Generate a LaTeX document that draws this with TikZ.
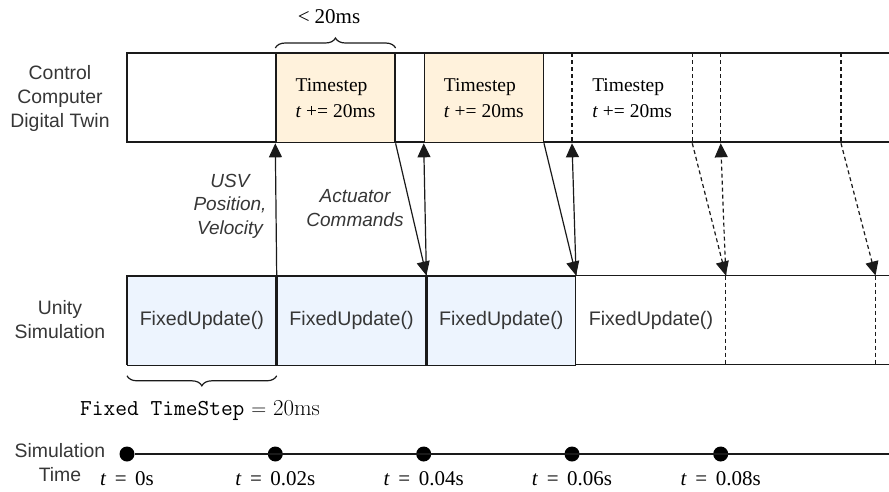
\documentclass[tikz,border=0pt]{standalone}
\usepackage{fontspec}
\setsansfont{Liberation Sans}
\newfontfamily\timesfont{Liberation Serif}
\usepackage{tikz}
\usetikzlibrary{arrows.meta,positioning,decorations.pathreplacing,calc}
\definecolor{stepfill}{HTML}{FFF2DC}
\definecolor{fufill}{HTML}{EDF4FE}
\definecolor{linecol}{HTML}{1A1A1A}
\definecolor{labcol}{HTML}{363636}

\begin{document}
\begin{tikzpicture}[
  x=1pt, y=-1pt,
  rowline/.style={draw=linecol, line width=1.3pt},
  stepbox/.style={draw=linecol, line width=1.3pt, fill=stepfill, minimum width=119,
                  minimum height=89, inner sep=0pt, align=left,
                  font=\timesfont\fontsize{19.5}{26.5}\selectfont},
  fubox/.style={draw=linecol, line width=1.3pt, fill=fufill, minimum width=148.4,
                minimum height=89, inner sep=0pt,
                font=\sffamily\fontsize{19.6}{22}\selectfont, text=labcol},
  rowlab/.style={align=center, font=\sffamily\fontsize{19.4}{24}\selectfont, text=labcol},
  msg/.style={align=center, font=\sffamily\itshape\fontsize{19}{23.5}\selectfont, text=labcol},
  arr/.style={-{Triangle[length=14pt,width=13pt]}, draw=linecol, line width=1.2pt},
  darr/.style={arr, dash pattern=on 4pt off 3pt},
  dline/.style={draw=linecol, line width=1.1pt, dash pattern=on 4pt off 3pt},
  brc/.style={draw=linecol, line width=1.2pt, decorate,
              decoration={brace, amplitude=10pt}},
  tdot/.style={circle, fill=black, minimum size=15, inner sep=0pt},
  tlab/.style={font=\timesfont\fontsize{21}{24}\selectfont}
]
\useasboundingbox (0,0) rectangle (889,491);

% ======= Control computer row =======
\node[rowlab] (ctrllab) at (60,98) {Control\\Computer\\Digital Twin};
\draw[rowline] (892,53) -- (127,53) -- (127,142) -- (892,142);
\node[stepbox, anchor=north west] (ts1) at (275.3,53) {Timestep\\\textit{t} += 20ms};
\node[stepbox, anchor=north west] (ts2) at (423.7,53) {Timestep\\\textit{t} += 20ms};
\node[stepbox, anchor=north west, draw=none, fill=none] (ts3) at (572,53) {Timestep\\\textit{t} += 20ms};
\node[stepbox, anchor=north west, draw=none, fill=none] (ts4) at (720.7,53) {};
\draw[dline] (ts3.north west) -- (ts3.south west);
\draw[dline] (ts3.north east) -- (ts3.south east);
\draw[dline] (ts4.north west) -- (ts4.south west);
\draw[dline] (ts4.north east) -- (ts4.south east);

% ======= Unity row =======
\node[rowlab] (unitylab) at (60,320) {Unity\\Simulation};
\draw[rowline] (892,275.5) -- (127,275.5) -- (127,364.5) -- (892,364.5);
\node[fubox, anchor=north west] (fu1) at (127,275.5) {FixedUpdate()};
\node[fubox, anchor=north west] (fu2) at (fu1.north east) {FixedUpdate()};
\node[fubox, anchor=north west] (fu3) at (fu2.north east) {FixedUpdate()};
\node[fubox, anchor=north west, draw=none, fill=none] (fu4) at (fu3.north east) {FixedUpdate()};
\node[fubox, anchor=north west, draw=none, fill=none] (fu5) at (fu4.north east) {};
\coordinate (fu6) at (fu5.north east);
\draw[dline] (fu5.north west) -- (fu5.south west);
\draw[dline] (fu5.north east) -- (fu5.south east);

% ======= Messages =======
\draw[arr] (fu2.north west) -- (ts1.south west);
\draw[arr] (ts1.south east) -- (fu3.north west);
\draw[arr] (fu3.north west) -- (ts2.south west);
\draw[arr] (ts2.south east) -- (fu4.north west);
\draw[arr] (fu4.north west) -- (ts3.south west);
\draw[darr] (ts3.south east) -- (fu5.north west);
\draw[darr] (fu5.north west) -- (ts4.south west);
\draw[darr] (ts4.south east) -- (fu6);
\node[msg] (usvlab) at (230,206) {USV\\Position,\\Velocity};
\node[msg] (actlab) at (355,208) {Actuator\\Commands};

% ======= Braces =======
\draw[brc] (ts1.north west) ++(0,-5) coordinate (bt1) -- ($(ts1.north east)+(0,-5)$) coordinate (bt2);
\node[font=\timesfont\fontsize{21}{24}\selectfont] (ltlab) at (329,17) {<\hspace{5pt}20ms};
\draw[brc] ($(fu2.south west)+(0,10)$) coordinate (bb1) -- ($(fu1.south west)+(0,10)$) coordinate (bb2);
\node[anchor=base, font=\fontsize{22.8}{24}\selectfont] (ftlab) at (200,415)
  {\texttt{Fixed TimeStep} $=$ 20ms};

% ======= Simulation time =======
\node[rowlab] (simlab) at (60,463) {Simulation\\Time};
\node[tdot] (t0) at (127,454) {};
\node[tdot] (t1) at (275.3,454) {};
\node[tdot] (t2) at (423.7,454) {};
\node[tdot] (t3) at (572,454) {};
\node[tdot] (t4) at (720.7,454) {};
\coordinate (tend) at (892,454);
\draw[linecol, line width=1.3pt] (t0) -- (tend);
\node[tlab, anchor=base] (l0) at (127,485) {\textit{t}\hspace{8.5pt}=\hspace{8.5pt}0s};
\node[tlab, anchor=base] (l1) at (275.3,485) {\textit{t}\hspace{8.5pt}=\hspace{8.5pt}0.02s};
\node[tlab, anchor=base] (l2) at (423.7,485) {\textit{t}\hspace{8.5pt}=\hspace{8.5pt}0.04s};
\node[tlab, anchor=base] (l3) at (572,485) {\textit{t}\hspace{8.5pt}=\hspace{8.5pt}0.06s};
\node[tlab, anchor=base] (l4) at (720.7,485) {\textit{t}\hspace{8.5pt}=\hspace{8.5pt}0.08s};

\end{tikzpicture}
\end{document}
